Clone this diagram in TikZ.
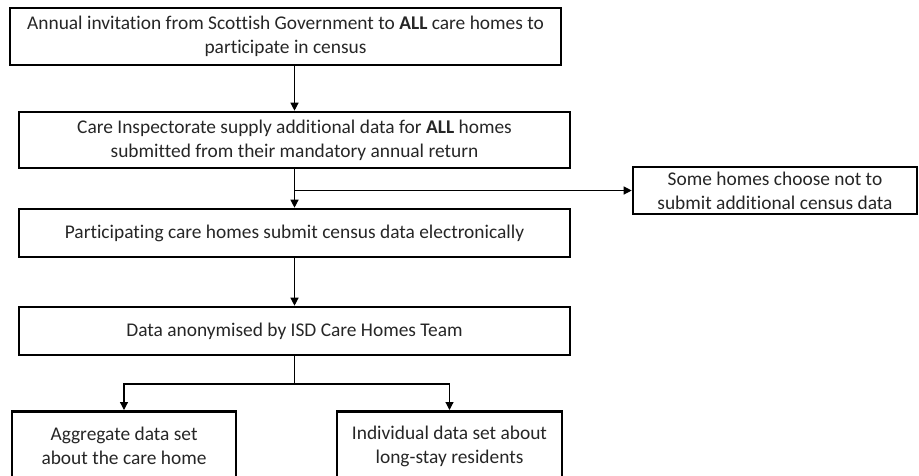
\documentclass[tikz,border=0pt]{standalone}
\usepackage{fontspec}
\setmainfont{Carlito}[Ligatures=NoCommon]
\usetikzlibrary{arrows.meta}

\begin{document}
\begin{tikzpicture}[x=1pt, y=-1pt,
    box/.style={draw, line width=2.6pt, align=center, inner sep=0pt,
      text=black!85, font=\fontsize{19.4}{24}\selectfont},
    arr/.style={-{Triangle[length=8pt,width=8pt]}, line width=1.2pt},
    link/.style={line width=1.2pt}]

      \useasboundingbox (0,0) rectangle (919,475);
      \clip (0,0) rectangle (919,475);

      \node [box, minimum width=551, minimum height=57] (invite) at (285.5,36.5)
      {Annual invitation from Scottish Government to \textbf{ALL} care homes to\\ participate in census};

      \node [box, minimum width=551, minimum height=56] (supply) at (294.5,140)
      {Care Inspectorate supply additional data for \textbf{ALL} homes\\ submitted from their mandatory annual return};

      \node [box, minimum width=284, minimum height=47] (optout) at (775,190.5)
      {Some homes choose not to\\ submit additional census data};

      \node [box, minimum width=551, minimum height=48] (submit) at (294.5,233)
      {Participating care homes submit census data electronically};

      \node [box, minimum width=551, minimum height=48] (anon) at (294.5,331)
      {Data anonymised by ISD Care Homes Team};

      \node [box, minimum width=224, minimum height=70, anchor=north] (aggr) at (124,410)
      {Aggregate data set\\ about the care home};

      \node [box, minimum width=225, minimum height=70, anchor=north] (indiv) at (449.5,410)
      {Individual data set about\\ long-stay residents};

      \coordinate (fork) at (supply.south |- optout.west);
      \coordinate (split) at (294.5,384);

      \draw [arr] (invite.south -| supply.north) -- (supply.north);
      \draw [arr] (supply.south) -- (submit.north);
      \draw [arr] (fork) -- (optout.west);
      \draw [arr] (submit.south) -- (anon.north);

      \draw [link] (anon.south) -- (split);
      \foreach \n in {aggr,indiv}
      \draw [arr] (split) -| (\n.north);

    \end{tikzpicture}
\end{document}
